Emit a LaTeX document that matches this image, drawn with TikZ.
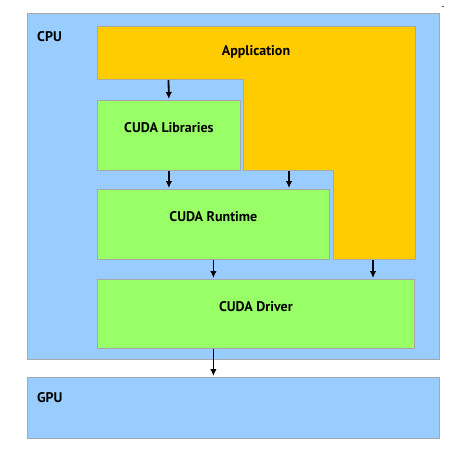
\documentclass[tikz,border=0pt]{standalone}
\usepackage{fontspec}
\setmainfont{PT Sans}
\usetikzlibrary{arrows.meta}
\definecolor{cpublue}{HTML}{99CCFF}
\definecolor{appyellow}{HTML}{FFCC00}
\definecolor{cudagreen}{HTML}{99FF66}
\definecolor{edgegray}{HTML}{A8A8A8}
\tikzset{
  layer/.style = {draw=edgegray, line width=0.8pt, anchor=north west, inner sep=0pt},
  cudabox/.style = {layer, fill=cudagreen},
  tag/.style = {font=\bfseries\fontsize{14}{16}\selectfont, inner sep=0pt},
  flow/.style = {-{Latex[length=7pt,width=6.5pt]}, line width=1.8pt, shorten >=1pt}
}
\begin{document}
\begin{tikzpicture}[x=1pt, y=-1pt]
  \useasboundingbox (0,0) rectangle (469,451);
  % host and device
  \node[layer, fill=cpublue, minimum width=412pt, minimum height=346pt] (cpu) at (27,13) {};
  \node[layer, fill=cpublue, minimum width=412pt, minimum height=61pt] (gpu) at (27,377) {};
  \node[tag, anchor=west] (cpulbl) at (37,37) {CPU};
  \node[tag, anchor=west] (gpulbl) at (37,398) {GPU};
  \node[font=\fontsize{9}{9}\selectfont, inner sep=0pt] (dash) at (443,8) {-};

  % application (L shape)
  \filldraw[draw=edgegray, line width=0.8pt, fill=appyellow]
    (97,26) -- (415,26) -- (415,259) -- (333,259) -- (333,170)
    -- (243,170) -- (243,79) -- (97,79) -- cycle;
  \node[tag] (app) at (256,52) {Application};
  \coordinate (applib) at (168.5,80);
  \coordinate (apprt) at (289,171);
  \coordinate (appdrv) at (373,260);

  % cuda layers
  \node[cudabox, minimum width=143pt, minimum height=70pt,
        label={[tag, yshift=8pt]center:CUDA Libraries}] (lib) at (97,100) {};
  \node[cudabox, minimum width=232pt, minimum height=70pt,
        label={[tag, yshift=8pt]center:CUDA Runtime}] (rt) at (97,189) {};
  \node[cudabox, minimum width=317pt, minimum height=69pt,
        label={[tag, yshift=7pt]center:CUDA Driver}] (drv) at (97,279) {};
  \coordinate (drvout) at (rt.south |- drv.south);

  % calls
  \draw[flow] (applib) -- (lib.north);
  \draw[flow] (lib.south) -- (lib.south |- rt.north);
  \draw[flow] (apprt) -- (apprt |- rt.north);
  \draw[flow] (rt.south) -- (rt.south |- drv.north);
  \draw[flow] (appdrv) -- (appdrv |- drv.north);
  \draw[flow] (drvout) -- (drvout |- gpu.north);
\end{tikzpicture}
\end{document}
